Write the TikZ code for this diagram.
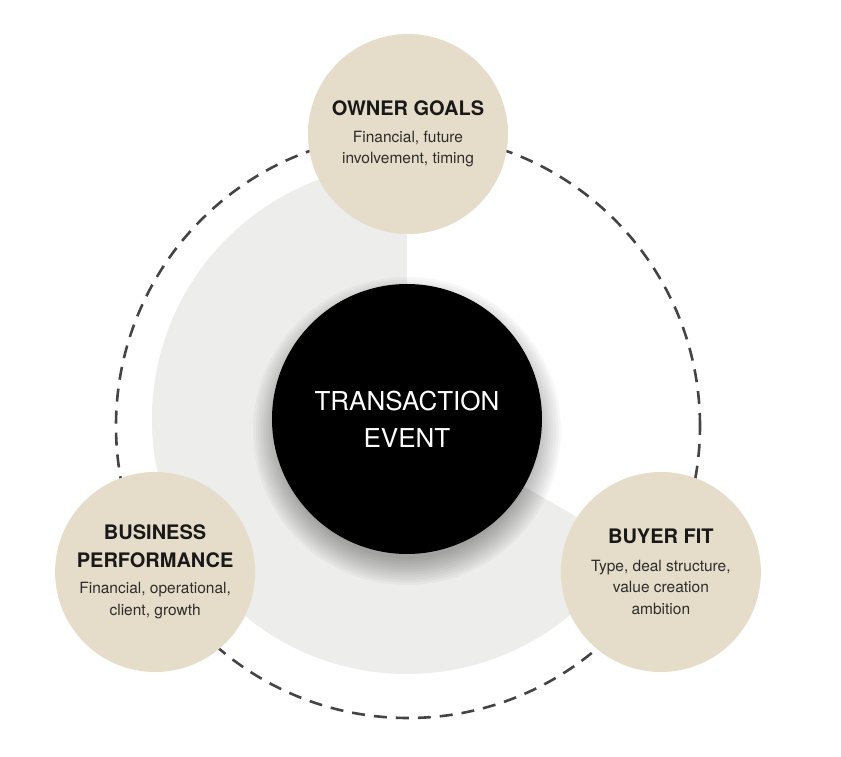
\documentclass[tikz,border=0pt]{standalone}
\usepackage{fontspec}
\setmainfont{TeX Gyre Heros}
\usepackage{tikz}

\definecolor{sand}{RGB}{229,221,201}
\definecolor{mist}{RGB}{237,237,236}
\definecolor{ink}{RGB}{68,68,68}
\definecolor{body}{RGB}{45,45,45}

\begin{document}
\begin{tikzpicture}
                [
                    x=1pt,
                    y=1pt,
                    ring/.style={shape=circle, draw=ink, line width=2.6pt,
                        dash pattern=on 13pt off 9pt, minimum size=584pt,
                        inner sep=0pt, outer sep=0pt},
                    pie/.style={fill=mist},
                    halo/.style={fill=black, opacity=0.03},
                    core/.style={shape=circle, fill=black, text=white,
                        minimum size=270pt, inner sep=0pt, align=center,
                        font=\fontsize{26}{37}\selectfont},
                    factor/.style={shape=circle, fill=sand, text=body,
                        minimum size=200pt, inner sep=0pt, align=center,
                        font=\fontsize{15.5}{21.5}\selectfont}
                ]
                \useasboundingbox (-408,426) rectangle (433,-331);

                \coordinate (core centre) at (-1,7);

                \fill [pie] (core centre) -- ++(90:255)
                    arc [start angle=90, end angle=330, radius=255] -- cycle;

                \node (ring) [ring] at (0,0) {};

                \foreach \r in {0,...,10}
                    \fill [halo] ([yshift=-12pt]core centre) circle [radius={128+2.6*\r}];

                \node (core) [core] at (core centre) {TRANSACTION\\EVENT};

                \node (owner goals)
                    [factor] at (ring.90)
                    {{\fontsize{20}{22}\selectfont\bfseries\color{black!90}OWNER GOALS}\\[5pt]
                     Financial, future\\involvement, timing};

                \node (business performance)
                    [factor] at (ring.210)
                    {{\fontsize{20}{22}\selectfont\bfseries\color{black!90}BUSINESS}\\[6pt]
                     {\fontsize{20}{22}\selectfont\bfseries\color{black!90}PERFORMANCE}\\[5pt]
                     Financial, operational,\\client, growth};

                \node (buyer fit)
                    [factor] at (ring.330)
                    {{\fontsize{20}{22}\selectfont\bfseries\color{black!90}BUYER FIT}\\[6pt]
                     Type, deal structure,\\value creation\\ambition};

            \end{tikzpicture}
\end{document}
